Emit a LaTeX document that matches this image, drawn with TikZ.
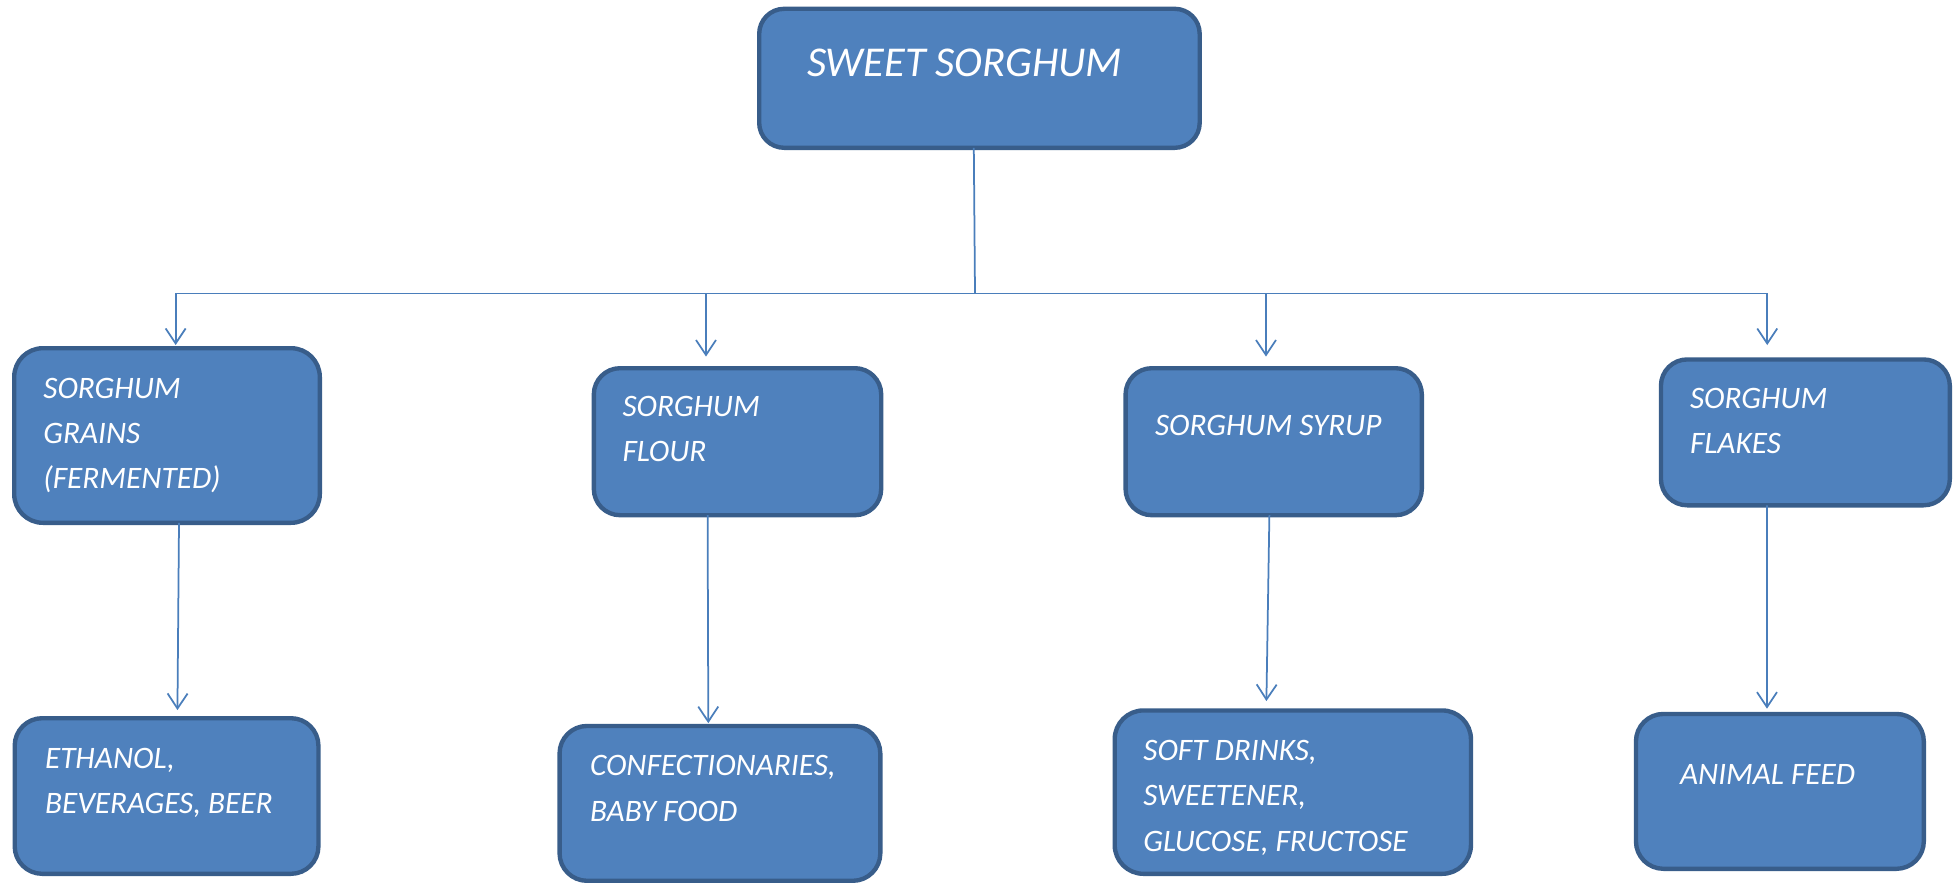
\documentclass[tikz,border=0pt]{standalone}
\usepackage{fontspec}
\setmainfont{Carlito}
\usetikzlibrary{arrows.meta,calc}
\definecolor{fillc}{HTML}{4F81BD}
\definecolor{bordc}{HTML}{385D8A}
\definecolor{linec}{HTML}{4A7EBB}
\newcommand\vl[2]{\vtop{\baselineskip=#1pt\lineskiplimit=-100pt #2}}
\newcommand\boxat[6]{% name, x1,y1,x2,y2, radius
  \node[box, rounded corners=#6pt,
        minimum width={#4-#2-3.5}, minimum height={#5-#3-3.5}]
        (#1) at ({(#2+#4)/2},{(#3+#5)/2}) {};}
\begin{document}
\begin{tikzpicture}[x=1pt,y=-1pt,
  box/.style={draw=bordc, fill=fillc, line width=3.5pt, inner sep=0pt, outer sep=0pt},
  ln/.style={draw=linec, line width=1.4pt},
  arr/.style={ln, -{Straight Barb[length=12pt,width=16pt]}},
  lbl/.style={text=white, anchor=base west, inner sep=0pt, outer sep=0pt,
              font=\fontsize{25}{36}\selectfont\itshape},
  toplbl/.style={lbl, font=\fontsize{34}{40}\selectfont\itshape}]
\useasboundingbox (0,0) rectangle (1564,706.4);

% boxes
\boxat{top}{605.6}{5.3}{961.5}{120}{20}
\boxat{g1}{9.6}{276.8}{257.6}{420}{23}
\boxat{g2}{473.3}{292.8}{706.7}{413.9}{21}
\boxat{g3}{898.7}{292.8}{1139.2}{413.9}{21}
\boxat{g4}{1327}{285.8}{1561.6}{406}{21}
\boxat{e1}{10}{572.8}{256.5}{700.8}{22}
\boxat{e2}{445.9}{579}{706}{706.4}{22}
\boxat{e3}{890}{566.6}{1178.5}{700.8}{23}
\boxat{e4}{1307}{569.4}{1540.8}{696.8}{22}

% texts
\node[toplbl] (ttop) at (645.6,60.8) {SWEET SORGHUM};
\node[lbl] (tg1) at (34.7,318.7) {\vl{36}{\hbox{SORGHUM}\hbox{GRAINS}\hbox{(FERMENTED)}}};
\node[lbl] (tg2) at (498,333.3) {\vl{36}{\hbox{SORGHUM}\hbox{FLOUR}}};
\node[lbl] (tg3) at (924,348) {SORGHUM SYRUP};
\node[lbl] (tg4) at (1352,326.4) {\vl{36}{\hbox{SORGHUM}\hbox{FLAKES}}};
\node[lbl] (te1) at (36,614.4) {\vl{36}{\hbox{ETHANOL,}\hbox{BEVERAGES, BEER}}};
\node[lbl] (te2) at (472,620) {\vl{36.8}{\hbox{CONFECTIONARIES,}\hbox{BABY FOOD}}};
\node[lbl] (te3) at (914.7,608) {\vl{36.5}{\hbox{SOFT DRINKS,}\hbox{SWEETENER,}\hbox{GLUCOSE, FRUCTOSE}}};
\node[lbl] (te4) at (1344,627.5) {ANIMAL FEED};

% connectors
\coordinate (jn) at (780,234.7);
\coordinate (h1) at (140.5,234.7);
\coordinate (h2) at (564.8,234.7);
\coordinate (h3) at (1012.8,234.7);
\coordinate (h4) at (1413.8,234.7);
\draw[ln] ([xshift=-4.5pt]top.south) -- (jn);
\draw[ln] (h1) -- (h4);
\draw[arr, shorten >=2.5pt] (h1) -- (h1 |- g1.north);
\draw[arr, shorten >=9.3pt] (h2) -- (h2 |- g2.north);
\draw[arr, shorten >=9.3pt] (h3) -- (h3 |- g3.north);
\draw[arr, shorten >=11.5pt] (h4) -- (h4 |- g4.north);

\draw[arr, shorten >=6.5pt] ([xshift=9.6pt]g1.south) -- ([xshift=8.65pt]e1.north);
\draw[arr, shorten >=2.2pt] ([xshift=-23.9pt]g2.south) -- ([xshift=-9.3pt]e2.north);
\draw[arr, shorten >=7.5pt] ([xshift=-3.45pt]g3.south) -- ([xshift=-21.25pt]e3.north);
\draw[arr, shorten >=4.2pt] ([xshift=-30.7pt]g4.south) -- ([xshift=-10.3pt]e4.north);
\end{tikzpicture}
\end{document}
